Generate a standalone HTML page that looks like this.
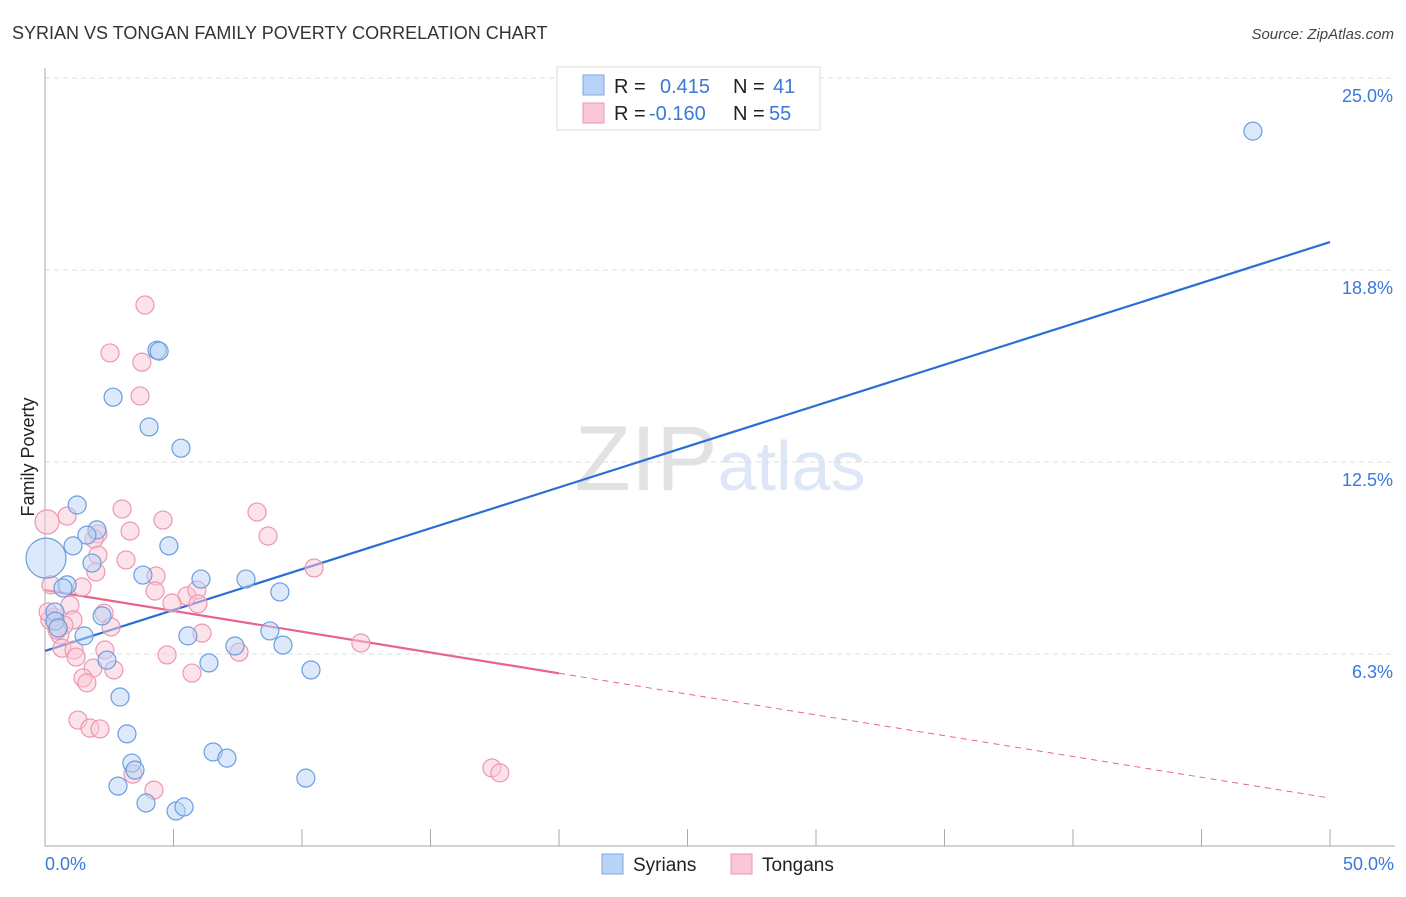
<!DOCTYPE html>
<html><head><meta charset="utf-8"><style>
body{margin:0;background:#fff;font-family:"Liberation Sans",sans-serif;}
svg text{font-family:"Liberation Sans",sans-serif;}
</style></head><body>
<svg id="chart" width="1406" height="892" xmlns="http://www.w3.org/2000/svg">
<text x="12" y="39" font-size="18" fill="#333">SYRIAN VS TONGAN FAMILY POVERTY CORRELATION CHART</text>
<text x="1394" y="39" font-size="15" fill="#444" text-anchor="end" font-style="italic">Source: ZipAtlas.com</text>
<text transform="translate(34,457) rotate(-90)" font-size="18" fill="#222" text-anchor="middle">Family Poverty</text>
<text x="720" y="490" font-size="92" fill="#e6e6e6" text-anchor="middle" font-family="Liberation Serif"><tspan fill="#e2e2e2">ZIP</tspan><tspan fill="#dde7f5" font-family="Liberation Sans" font-size="70">atlas</tspan></text>
<g id="grid"></g>
<g id="axes"></g>
<g id="lines"></g>
<g id="points"></g>
<g>
<rect x="557" y="67" width="263" height="63" fill="#fff" stroke="#ddd"/>
<rect x="583" y="75" width="21" height="20" fill="#b8d3f5" stroke="#7aa8e6"/>
<rect x="583" y="103" width="21" height="20" fill="#f9c7d6" stroke="#ec97b0"/>
<text x="614" y="93" font-size="20" fill="#222">R = </text><text x="660" y="93" font-size="20" fill="#3b78d8">0.415</text>
<text x="733" y="93" font-size="20" fill="#222">N = </text><text x="773" y="93" font-size="20" fill="#3b78d8">41</text>
<text x="614" y="120" font-size="20" fill="#222">R = </text><text x="649" y="120" font-size="20" fill="#3b78d8">-0.160</text>
<text x="733" y="120" font-size="20" fill="#222">N = </text><text x="769" y="120" font-size="20" fill="#3b78d8">55</text>
</g>
<g>
<rect x="602" y="854" width="21" height="20" fill="#b8d3f5" stroke="#7aa8e6"/>
<text x="633" y="871" font-size="19" fill="#222">Syrians</text>
<rect x="731" y="854" width="21" height="20" fill="#f9c7d6" stroke="#ec97b0"/>
<text x="762" y="871" font-size="19" fill="#222">Tongans</text>
</g>
</svg>
<script>
const yTicks=[6.25,12.5,18.75,25];
const yTickLabels=["6.3%","12.5%","18.8%","25.0%"];
const xTicks=[0,5,10,15,20,25,30,35,40,45,50];
const xEndLabels=["0.0%","50.0%"];
const syrX=[47.0,4.36,4.44,2.65,4.05,5.29,1.25,2.02,1.63,1.09,4.82,1.83,0.04,3.81,6.07,7.82,0.86,0.70,9.14,0.39,2.22,0.39,0.51,1.52,5.56,8.75,7.39,9.26,6.38,2.41,10.35,2.92,3.19,6.54,7.08,3.38,3.50,10.15,2.84,3.93,5.10,5.41];
const syrY=[23.27,16.14,16.11,14.61,13.64,12.95,11.10,10.29,10.12,9.77,9.77,9.21,9.37,8.82,8.69,8.69,8.50,8.40,8.27,7.62,7.49,7.32,7.10,6.84,6.84,7.00,6.51,6.54,5.96,6.05,5.73,4.85,3.65,3.06,2.86,2.70,2.47,2.21,1.95,1.40,1.14,1.27];
const tonX=[3.89,2.53,3.77,3.70,0.86,0.08,3.00,4.59,8.25,2.06,1.91,3.31,8.68,2.06,3.15,1.98,4.32,10.47,1.44,0.23,4.28,5.52,5.91,0.97,4.94,5.95,2.30,1.09,2.57,0.35,0.74,0.58,6.11,12.29,0.66,1.13,2.33,1.21,7.55,4.75,1.87,2.68,5.72,1.48,1.63,1.28,1.75,2.14,3.42,4.24,17.39,17.70,0.19,0.47,0.12];
const tonY=[17.61,16.05,15.75,14.65,10.74,10.55,10.97,10.61,10.87,10.16,9.99,10.25,10.09,9.47,9.31,8.92,8.79,9.05,8.43,8.50,8.30,8.14,8.33,7.84,7.91,7.88,7.58,7.36,7.13,7.45,7.19,6.87,6.93,6.61,6.44,6.38,6.38,6.15,6.31,6.22,5.79,5.73,5.63,5.47,5.31,4.10,3.84,3.81,2.34,1.82,2.54,2.38,7.36,7.03,7.62];
const syrLine=[6.35,19.66];
const tonLine=[8.33,1.56];
const tonSolidEnd=20;
const NS="http://www.w3.org/2000/svg";
const X=v=>45+v*(1285/50);
const Y=v=>846-v*(192/6.25);
function mk(tag,attrs,parent){const e=document.createElementNS(NS,tag);for(const k in attrs)e.setAttribute(k,attrs[k]);document.getElementById(parent).appendChild(e);return e;}
yTicks.forEach((t,i)=>{
 const l=mk('line',{x1:45,x2:1395,y1:Y(t),y2:Y(t),stroke:'#ddd','stroke-dasharray':'5,4'},'grid');
 
 
 const tx=mk('text',{x:1393,y:Y(t)+24,'font-size':18,fill:'#3b78d8','text-anchor':'end'},'axes');
 tx.textContent=yTickLabels[i];
 
 
});
const ya=mk('line',{x1:45,x2:45,y1:68,y2:846,stroke:'#aaa'},'axes');


const xa=mk('line',{x1:45,x2:1395,y1:846,y2:846,stroke:'#aaa'},'axes');


xTicks.forEach(t=>{
 const l=mk('line',{x1:X(t),x2:X(t),y1:829,y2:846,stroke:'#aaa'},'axes');
 
 
});
[[0,'start',45],[50,'end',1394]].forEach((d,i)=>{
 const tx=mk('text',{x:d[2],y:870,'font-size':18,fill:'#3b78d8','text-anchor':d[1]},'axes');
 tx.textContent=xEndLabels[i];
 
 
});
function pts(xs,ys,fill,stroke,name){
 xs.forEach((x,i)=>{
  const big=(name==='syrian-point'&&i===12)?20:(name==='tongan-point'&&i===5)?12:9;
  const c=mk('circle',{cx:X(x),cy:Y(ys[i]),r:big,fill:fill,'fill-opacity':0.5,stroke:stroke,'stroke-width':1.2},'points');
  
  
 });
}
pts(tonX,tonY,'#f9c7d6','#ec97b0','tongan-point');
pts(syrX,syrY,'#b8d3f5','#6a9ee0','syrian-point');
const tonAt=x=>tonLine[0]+(tonLine[1]-tonLine[0])*x/50;
const tl=mk('line',{x1:X(0),y1:Y(tonLine[0]),x2:X(tonSolidEnd),y2:Y(tonAt(tonSolidEnd)),stroke:'#e8648f','stroke-width':2.2},'lines');


const td=mk('line',{x1:X(tonSolidEnd),y1:Y(tonAt(tonSolidEnd)),x2:X(50),y2:Y(tonLine[1]),stroke:'#e8648f','stroke-width':1,'stroke-dasharray':'6,5'},'lines');


const sl=mk('line',{x1:X(0),y1:Y(syrLine[0]),x2:X(50),y2:Y(syrLine[1]),stroke:'#2a6fd6','stroke-width':2.2},'lines');


</script>
</body></html>
